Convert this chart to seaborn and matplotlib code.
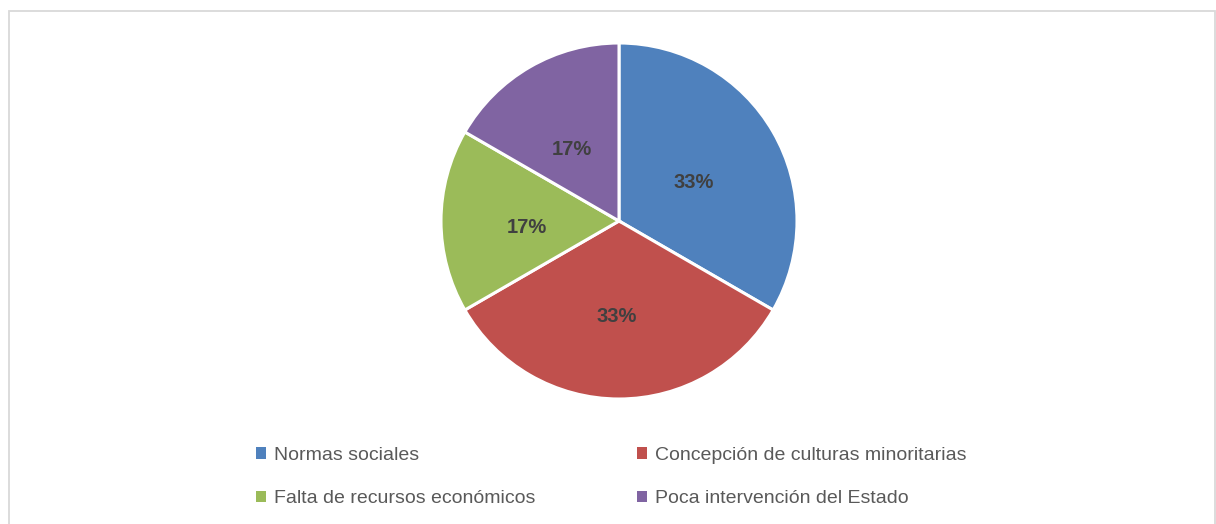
import matplotlib
matplotlib.use("Agg")
import matplotlib.pyplot as plt
from matplotlib.patches import Rectangle, Patch
import seaborn as sns

categories = ["Normas sociales", "Concepción de culturas minoritarias",
              "Falta de recursos económicos", "Poca intervención del Estado"]
values = [2, 2, 1, 1]
colors = ["#4F81BD", "#C0504D", "#9BBB59", "#8064A2"]

sns.set_theme(style="white")
plt.rcParams['font.family'] = ['Liberation Sans', 'DejaVu Sans']

W, H = 1216, 524
fig = plt.figure(figsize=(W / 100, H / 100), dpi=100)
fig.patch.set_facecolor("white")

cx, cy, r = 619, 221, 178
ax = fig.add_axes([(cx - r) / W, (H - cy - r) / H, 2 * r / W, 2 * r / H])
wedges, texts, autotexts = ax.pie(
    values, colors=colors, startangle=90, counterclock=False,
    autopct=lambda p: f"{p:.0f}%", pctdistance=0.5,
    wedgeprops=dict(edgecolor="white", linewidth=2.2),
    textprops=dict(color="#404040", fontsize=14.5, fontweight="bold"))
for t in autotexts:
    x, y = t.get_position()
    t.set_position((x - 0.015, y - 0.034))
ax.set_xlim(-1, 1)
ax.set_ylim(-1, 1)
ax.set_aspect("equal")
ax.axis("off")

handles = [Patch(facecolor=c, edgecolor="none") for c in colors]
order = [0, 2, 1, 3]
leg = fig.legend([handles[i] for i in order], [categories[i] for i in order],
                 ncol=2, loc="center left", bbox_to_anchor=(256 / W, (H - 477) / H),
                 frameon=False, fontsize=14, labelcolor="#595959", borderpad=0,
                 borderaxespad=0,
                 handlelength=0.5, handleheight=0.5, handletextpad=0.45,
                 columnspacing=5.2, labelspacing=1.35)

border = Rectangle((8.5 / W, -0.1), (1215 - 8.5) / W, (H - 11.5) / H + 0.1,
                   transform=fig.transFigure, fill=False, edgecolor="#D9D9D9",
                   linewidth=1.3)
fig.add_artist(border)

fig.savefig("out.png", dpi=100)
